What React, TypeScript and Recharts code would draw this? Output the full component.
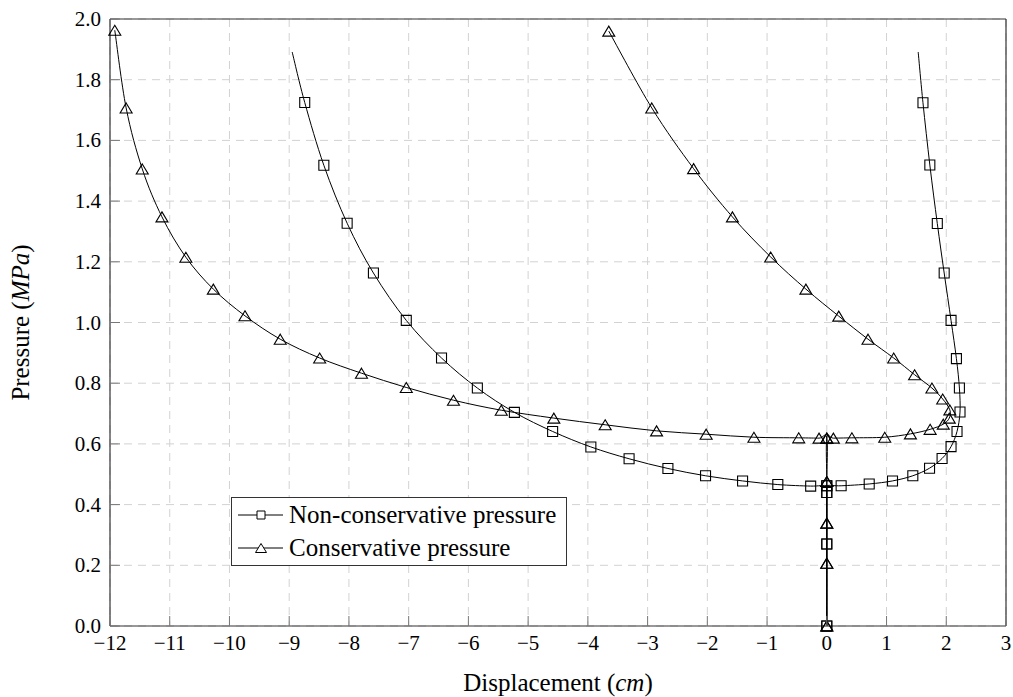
import React from 'react';
import { LineChart, Line, XAxis, YAxis, CartesianGrid, Legend } from 'recharts';

// tick values
const X_TICKS = [-12, -11, -10, -9, -8, -7, -6, -5, -4, -3, -2, -1, 0, 1, 2, 3];
const Y_TICKS = [0, 0.2, 0.4, 0.6, 0.8, 1.0, 1.2, 1.4, 1.6, 1.8, 2.0];

// non-conservative pressure, branch going left (last point has no marker)
const NC_LEFT_X = [0, 0, 0, 0, -0.27, -0.82, -1.41, -2.03, -2.66, -3.31, -3.95, -4.59, -5.23, -5.85, -6.45, -7.04, -7.59, -8.03, -8.42, -8.74, -8.95];
const NC_LEFT_Y = [0, 0.27, 0.44, 0.462, 0.461, 0.466, 0.478, 0.495, 0.519, 0.551, 0.59, 0.641, 0.704, 0.784, 0.883, 1.007, 1.163, 1.327, 1.518, 1.725, 1.891];

// non-conservative pressure, branch going right
const NC_RIGHT_X = [0, 0, 0, 0, 0.24, 0.71, 1.1, 1.44, 1.72, 1.93, 2.08, 2.18, 2.23, 2.22, 2.17, 2.08, 1.965, 1.85, 1.725, 1.61, 1.53];
const NC_RIGHT_Y = [0, 0.27, 0.44, 0.462, 0.462, 0.468, 0.478, 0.495, 0.52, 0.552, 0.591, 0.641, 0.705, 0.784, 0.881, 1.007, 1.163, 1.326, 1.519, 1.724, 1.891];

// conservative pressure, branch going left
const C_LEFT_X = [0, 0, 0, 0, 0, -0.13, -0.47, -1.22, -2.02, -2.85, -3.71, -4.57, -5.45, -6.25, -7.04, -7.79, -8.49, -9.15, -9.74, -10.27, -10.73, -11.13, -11.46, -11.73, -11.92];
const C_LEFT_Y = [0, 0.207, 0.339, 0.476, 0.619, 0.619, 0.62, 0.622, 0.632, 0.643, 0.663, 0.685, 0.711, 0.744, 0.786, 0.833, 0.883, 0.945, 1.022, 1.11, 1.215, 1.348, 1.506, 1.707, 1.963];

// conservative pressure, branch looping right then back up-left
const C_RIGHT_X = [0, 0, 0, 0, 0, 0.11, 0.42, 0.97, 1.4, 1.73, 1.95, 2.05, 2.06, 1.94, 1.76, 1.47, 1.12, 0.69, 0.2, -0.35, -0.94, -1.58, -2.23, -2.93, -3.65];
const C_RIGHT_Y = [0, 0.207, 0.339, 0.476, 0.619, 0.619, 0.62, 0.622, 0.633, 0.648, 0.665, 0.685, 0.712, 0.748, 0.784, 0.828, 0.883, 0.945, 1.021, 1.11, 1.216, 1.348, 1.507, 1.707, 1.96];

const NAMES = ['Non-conservative pressure', 'Conservative pressure'];

const zip = (xs: number[], ys: number[]) => xs.map((x, i) => ({ x, y: ys[i] }));

const ncLeft = zip(NC_LEFT_X, NC_LEFT_Y);
const ncRight = zip(NC_RIGHT_X, NC_RIGHT_Y);
const cLeft = zip(C_LEFT_X, C_LEFT_Y);
const cRight = zip(C_RIGHT_X, C_RIGHT_Y);

const FONT = 'Liberation Serif';
const TICK_LEN = 10;
const AXIS_COLOR = '#333';

// catmull-rom style smoothing, works for curves that double back in x
const K = 1 / 6;
const smooth = (context: any) => {
  let pts: number[][] = [];
  return {
    areaStart() {},
    areaEnd() {},
    lineStart() {
      pts = [];
    },
    point(x: number, y: number) {
      pts.push([+x, +y]);
    },
    lineEnd() {
      const n = pts.length;
      if (!n) return;
      context.moveTo(pts[0][0], pts[0][1]);
      for (let i = 0; i < n - 1; i++) {
        const a = pts[Math.max(i - 1, 0)];
        const b = pts[i];
        const c = pts[i + 1];
        const d = pts[Math.min(i + 2, n - 1)];
        context.bezierCurveTo(
          b[0] + (c[0] - a[0]) * K,
          b[1] + (c[1] - a[1]) * K,
          c[0] - (d[0] - b[0]) * K,
          c[1] - (d[1] - b[1]) * K,
          c[0],
          c[1]
        );
      }
    },
  };
};

const squarePath = (cx: number, cy: number, s: number) =>
  `M${cx - s / 2},${cy - s / 2}h${s}v${s}h${-s}Z`;
const trianglePath = (cx: number, cy: number, w: number, h: number) =>
  `M${cx},${cy - h / 2}L${cx + w / 2},${cy + h / 2}L${cx - w / 2},${cy + h / 2}Z`;

const makeSquareDot = (count: number) => (props: any) => {
  const { cx, cy, index } = props;
  if (index === count - 1 || cx == null) return <g key={`s-${index}`} />;
  return <path key={`s-${index}`} d={squarePath(cx, cy, 10)} fill="none" stroke="#000" strokeWidth={1.1} />;
};

const triangleDot = (props: any) => {
  const { cx, cy, index } = props;
  if (cx == null) return <g key={`t-${index}`} />;
  return <path key={`t-${index}`} d={trianglePath(cx, cy, 12, 10)} fill="none" stroke="#000" strokeWidth={1.1} />;
};

const fmtX = (v: number) => (v < 0 ? `\u2212${-v}` : `${v}`);

const BottomTick = (props: any) => {
  const { x, y, payload } = props;
  return (
    <g>
      <line x1={x} x2={x} y1={y} y2={y - TICK_LEN} stroke="#777" strokeWidth={1} />
      <text x={x} y={y + 24} textAnchor="middle" fontFamily={FONT} fontSize={21} fill="#000">
        {fmtX(payload.value)}
      </text>
    </g>
  );
};

const TopTick = (props: any) => {
  const { x, y } = props;
  return <line x1={x} x2={x} y1={y} y2={y + TICK_LEN} stroke="#777" strokeWidth={1} />;
};

const LeftTick = (props: any) => {
  const { x, y, payload } = props;
  return (
    <g>
      <line x1={x} x2={x + TICK_LEN} y1={y} y2={y} stroke="#777" strokeWidth={1} />
      <text x={x - 9} y={y + 7} textAnchor="end" fontFamily={FONT} fontSize={21} fill="#000">
        {payload.value.toFixed(1)}
      </text>
    </g>
  );
};

const RightTick = (props: any) => {
  const { x, y } = props;
  return <line x1={x} x2={x - TICK_LEN} y1={y} y2={y} stroke="#777" strokeWidth={1} />;
};

const XTitle = (props: any) => {
  const { viewBox } = props;
  return (
    <text x={viewBox.x + viewBox.width / 2} y={viewBox.y + 65} textAnchor="middle" fontFamily={FONT} fontSize={25} fill="#000">
      Displacement (<tspan fontStyle="italic">cm</tspan>)
    </text>
  );
};

const YTitle = (props: any) => {
  const { viewBox } = props;
  const cy = viewBox.y + viewBox.height / 2;
  return (
    <text x={29} y={cy} transform={`rotate(-90 29 ${cy})`} textAnchor="middle" fontFamily={FONT} fontSize={25} fill="#000">
      Pressure (<tspan fontStyle="italic">MPa</tspan>)
    </text>
  );
};

const LegendBox = () => (
  <svg width={336} height={69} style={{ display: 'block' }}>
    <rect x={0.5} y={0.5} width={335} height={68} fill="#fff" stroke="#333" strokeWidth={1} />
    <line x1={7} x2={52} y1={18} y2={18} stroke="#000" strokeWidth={1} />
    <path d={squarePath(30, 18, 8)} fill="#fff" stroke="#000" strokeWidth={1} />
    <text x={58} y={26} fontFamily={FONT} fontSize={25} fill="#000">{NAMES[0]}</text>
    <line x1={7} x2={52} y1={51} y2={51} stroke="#000" strokeWidth={1} />
    <path d={trianglePath(30, 51, 11, 9)} fill="#fff" stroke="#000" strokeWidth={1} />
    <text x={58} y={59} fontFamily={FONT} fontSize={25} fill="#000">{NAMES[1]}</text>
  </svg>
);

const App: React.FC = () => {
  return (
    <div style={{ position: 'absolute', left: 0, top: 0, background: '#fff', fontFamily: FONT }}>
      <LineChart width={1013} height={697} margin={{ top: 0, right: 0, bottom: 0, left: 0 }}>
        <CartesianGrid stroke="#d2d2d2" strokeDasharray="8 6" />
        <XAxis
          type="number"
          dataKey="x"
          domain={[-12, 3]}
          ticks={X_TICKS}
          interval={0}
          height={71}
          tickSize={0}
          tickMargin={0}
          tickLine={false}
          tick={<BottomTick />}
          axisLine={{ stroke: AXIS_COLOR, strokeWidth: 1.2 }}
          label={(p: any) => <XTitle {...p} />}
        />
        <XAxis
          xAxisId="top"
          orientation="top"
          type="number"
          dataKey="x"
          domain={[-12, 3]}
          ticks={X_TICKS}
          interval={0}
          height={19}
          tickSize={0}
          tickMargin={0}
          tickLine={false}
          tick={<TopTick />}
          axisLine={{ stroke: AXIS_COLOR, strokeWidth: 1.2 }}
        />
        <YAxis
          type="number"
          domain={[0, 2]}
          ticks={Y_TICKS}
          interval={0}
          width={110}
          tickSize={0}
          tickMargin={0}
          tickLine={false}
          tick={<LeftTick />}
          axisLine={{ stroke: AXIS_COLOR, strokeWidth: 1.2 }}
          label={(p: any) => <YTitle {...p} />}
        />
        <YAxis
          yAxisId="right"
          orientation="right"
          type="number"
          domain={[0, 2]}
          ticks={Y_TICKS}
          interval={0}
          width={7}
          tickSize={0}
          tickMargin={0}
          tickLine={false}
          tick={<RightTick />}
          axisLine={{ stroke: AXIS_COLOR, strokeWidth: 1.2 }}
        />
        <Line data={ncLeft} dataKey="y" name={NAMES[0]} type={smooth as any} stroke="#000" strokeWidth={1} dot={makeSquareDot(ncLeft.length)} activeDot={false} isAnimationActive={false} />
        <Line data={ncRight} dataKey="y" name={NAMES[0]} type={smooth as any} stroke="#000" strokeWidth={1} dot={makeSquareDot(ncRight.length)} activeDot={false} isAnimationActive={false} />
        <Line data={cLeft} dataKey="y" name={NAMES[1]} type={smooth as any} stroke="#000" strokeWidth={1} dot={triangleDot} activeDot={false} isAnimationActive={false} />
        <Line data={cRight} dataKey="y" name={NAMES[1]} type={smooth as any} stroke="#000" strokeWidth={1} dot={triangleDot} activeDot={false} isAnimationActive={false} />
        <Legend
          layout="vertical"
          verticalAlign="middle"
          align="center"
          content={() => <LegendBox />}
          wrapperStyle={{ left: 231, top: 497, width: 336, height: 69 }}
        />
      </LineChart>
    </div>
  );
};

export default App;
